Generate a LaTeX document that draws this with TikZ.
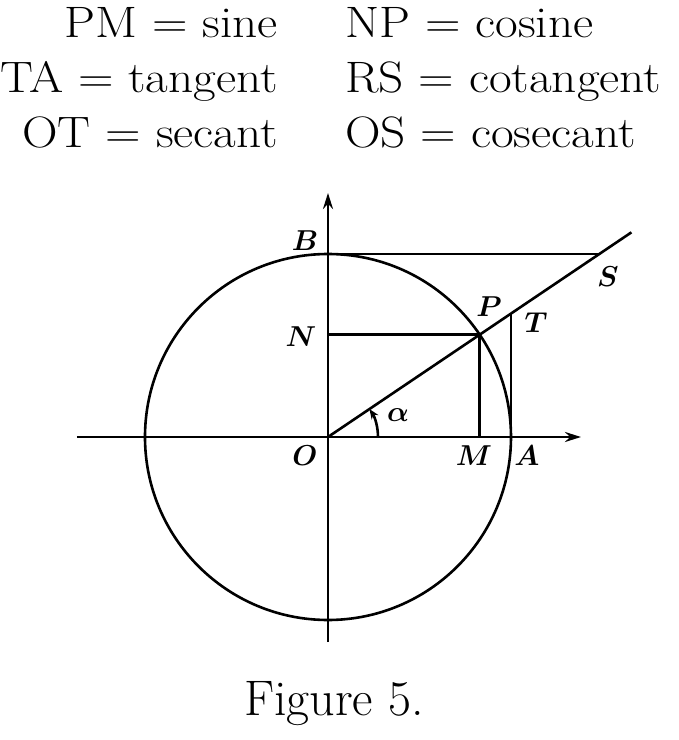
\documentclass[tikz,border=0pt]{standalone}
\usepackage{amsmath,amssymb}
\usepackage{graphicx}
\usepackage{tikz}
\usetikzlibrary{arrows.meta}

\newcommand{\widetxt}[1]{\scalebox{1.12}[1]{#1}}

\begin{document}
\begin{tikzpicture}[x=0.5pt,y=0.5pt,line width=1.3pt,
    lbl/.style={font=\fontsize{15}{17}\selectfont\boldmath,inner sep=0pt},
    txt/.style={font=\fontsize{22}{26}\selectfont,inner sep=0pt},
    tip/.style={-{Stealth[length=8pt,width=5pt]}}]
      \useasboundingbox (-328,-303) rectangle (351,437);
      % points of the unit circle
      \coordinate (O) at (0,0);
      \coordinate (A) at (183,0);
      \coordinate (B) at (0,183);
      \coordinate (P) at (34:183);
      \coordinate (M) at (P |- O);
      \coordinate (N) at (P -| O);
      \coordinate (T) at (183,123.4);
      \coordinate (S) at (271.3,183);
      \coordinate (E) at (34:366);
      \coordinate (xl) at (-251,0);
      \coordinate (xr) at (253,0);
      \coordinate (yb) at (0,-205);
      \coordinate (yt) at (0,244);
      \draw[tip] (xl) -- (xr);
      \draw[tip] (yb) -- (yt);
      \draw (O) circle (183);
      \draw (B) -- (S);
      \draw (O) -- (E);
      \draw (N) -- (P) -- (M);
      \draw (A) -- (T);
      \draw[-{Stealth[length=5pt,width=4pt]}] (50,0) arc[start angle=0, end angle=34, radius=50];
      \node[lbl] (lO) at (-23,-19) {$O$};
      \node[lbl] (lA) at (199,-19) {$A$};
      \node[lbl] (lM) at (146,-19) {$M$};
      \node[lbl] (lB) at (-23,196) {$B$};
      \node[lbl] (lN) at (-27,100) {$N$};
      \node[lbl] (lP) at (161,130) {$P$};
      \node[lbl] (lT) at (208,114) {$T$};
      \node[lbl] (lS) at (280,160) {$S$};
      \node[lbl] (la) at (70,22) {$\alpha$};
      % table of the six lines
      \node[txt, anchor=base east] (sin) at (-49,400) {\widetxt{PM = sine}};
      \node[txt, anchor=base east] (tan) at (-49,344) {\widetxt{TA = tangent}};
      \node[txt, anchor=base east] (sec) at (-49,290) {\widetxt{OT = secant}};
      \node[txt, anchor=base west] (cos) at (16,400) {\widetxt{NP = cosine}};
      \node[txt, anchor=base west] (cot) at (16,344) {\widetxt{RS = cotangent}};
      \node[txt, anchor=base west] (csc) at (16,290) {\widetxt{OS = cosecant}};
      \node[txt, font=\fontsize{25}{30}\selectfont, anchor=base] (cap) at (6,-278) {Figure 5.};
    \end{tikzpicture}
\end{document}
